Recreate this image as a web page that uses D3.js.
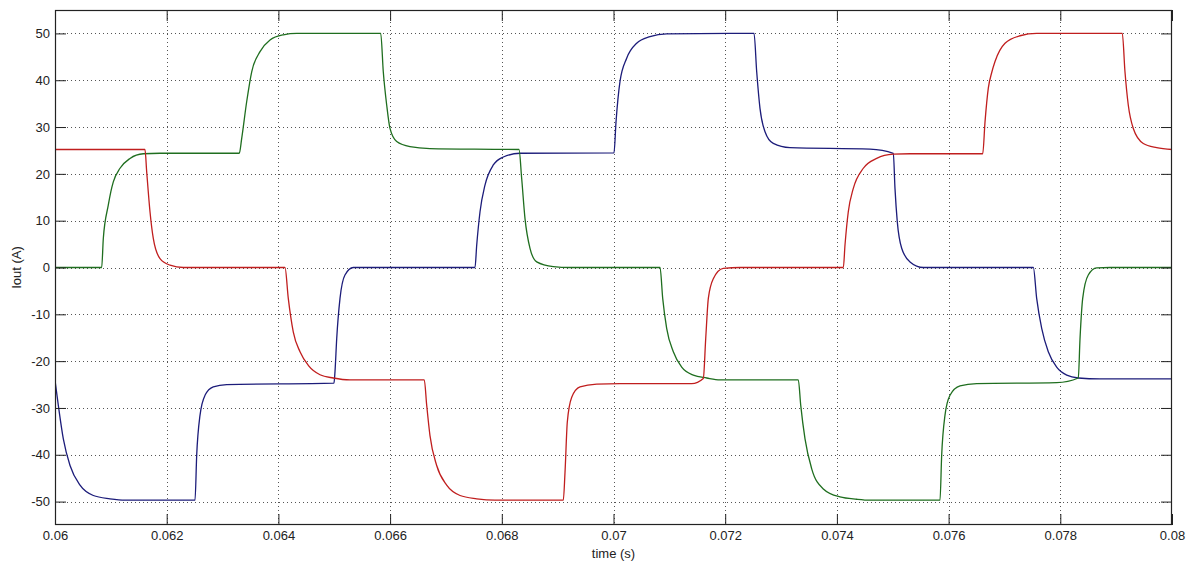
<!DOCTYPE html>
<html>
<head>
<meta charset="utf-8">
<script src="https://cdn.jsdelivr.net/npm/d3@7/dist/d3.min.js"></script>
<style>
  html, body { margin: 0; padding: 0; background: #ffffff; }
  svg { display: block; }
  text { font-family: "Liberation Sans", Arial, sans-serif; }
</style>
</head>
<body>
<svg id="chart" width="1194" height="565"></svg>
<script>
// ---- data (time in s, current in A) ----
const xTicks = [0.06, 0.062, 0.064, 0.066, 0.068, 0.07, 0.072, 0.074, 0.076, 0.078, 0.08];
const xTickLabels = ["0.06", "0.062", "0.064", "0.066", "0.068", "0.07", "0.072", "0.074", "0.076", "0.078", "0.08"];
const yTicks = [-50, -40, -30, -20, -10, 0, 10, 20, 30, 40, 50];
const yTickLabels = ["-50", "-40", "-30", "-20", "-10", "0", "10", "20", "30", "40", "50"];

const redT = [0.06, 0.061611, 0.061642, 0.061701, 0.06176, 0.06188, 0.062059, 0.062297, 0.064118, 0.064177, 0.064267, 0.064387, 0.064535, 0.064745, 0.064983, 0.065282, 0.066612, 0.066655, 0.066714, 0.066834, 0.067013, 0.067252, 0.067551, 0.067878, 0.069101, 0.069132, 0.069173, 0.069252, 0.0694, 0.069699, 0.070116, 0.0714, 0.071608, 0.071651, 0.071698, 0.071787, 0.071966, 0.072265, 0.074115, 0.074145, 0.074204, 0.074294, 0.074473, 0.074712, 0.07501, 0.075309, 0.076611, 0.076652, 0.076711, 0.076771, 0.076831, 0.07701, 0.077278, 0.077577, 0.07911, 0.079158, 0.079217, 0.079307, 0.079486, 0.079726, 0.08];
const redV = [25.2, 25.2, 20.4, 11.9, 6.2, 1.9, 0.5, 0, 0, -6.6, -13.8, -18.0, -20.9, -22.9, -23.6, -24.0, -24.0, -29.4, -35.9, -42.3, -46.5, -48.7, -49.4, -49.7, -49.7, -43.7, -33.0, -27.7, -25.5, -24.9, -24.8, -24.8, -23.7, -15.2, -6.6, -2.4, -0.2, 0, 0, 4.8, 11.9, 16.9, 21.2, 23.3, 24.2, 24.3, 24.3, 31.1, 38.3, 41.6, 44.0, 47.9, 49.5, 50, 50, 41.8, 34.7, 29.7, 26.5, 25.6, 25.2];

const greenT = [0.06, 0.060836, 0.060865, 0.060954, 0.061, 0.061044, 0.061164, 0.061343, 0.061581, 0.06188, 0.0633, 0.063343, 0.063432, 0.063522, 0.063671, 0.06385, 0.064088, 0.064328, 0.065832, 0.065878, 0.065939, 0.065998, 0.066118, 0.066356, 0.066714, 0.068308, 0.068356, 0.068415, 0.068505, 0.068625, 0.068922, 0.069221, 0.070833, 0.070881, 0.070952, 0.071071, 0.071221, 0.071429, 0.071669, 0.071907, 0.073309, 0.073352, 0.073429, 0.073549, 0.073757, 0.074055, 0.074354, 0.074593, 0.075846, 0.075876, 0.075935, 0.076025, 0.076204, 0.076503, 0.077935, 0.078322, 0.078353, 0.078401, 0.078501, 0.078652, 0.07889, 0.08];
const greenV = [0, 0, 6.2, 13.3, 16.2, 18.3, 21.2, 23.3, 24.3, 24.4, 24.4, 27.6, 35.4, 41.8, 46.1, 48.6, 49.7, 50, 50, 41.8, 34.7, 29.7, 26.9, 25.8, 25.4, 25.2, 19.0, 10.5, 4.1, 1.2, 0.2, 0, 0, -6.6, -13.0, -18.0, -21.3, -23.0, -23.6, -24.0, -24.0, -29.4, -36.6, -43.0, -47.3, -49.0, -49.5, -49.7, -49.7, -40.1, -31.6, -27.3, -25.3, -24.8, -24.6, -23.6, -15.2, -6.6, -1.6, -0.1, 0, 0];

const blueT = [0.06, 0.060059, 0.060149, 0.060269, 0.060448, 0.060686, 0.060985, 0.061253, 0.062507, 0.062537, 0.062596, 0.062686, 0.062834, 0.063074, 0.064995, 0.065013, 0.065044, 0.065103, 0.065192, 0.065341, 0.06752, 0.067551, 0.06761, 0.067699, 0.067848, 0.068027, 0.068326, 0.070009, 0.070045, 0.070116, 0.070236, 0.070415, 0.070653, 0.070952, 0.072516, 0.072564, 0.072623, 0.072713, 0.072861, 0.07316, 0.074593, 0.07501, 0.07504, 0.075081, 0.07516, 0.075309, 0.075547, 0.077517, 0.077577, 0.077667, 0.077785, 0.077935, 0.078115, 0.078322, 0.078711, 0.08];
const blueV = [-24.1, -29.4, -36.6, -42.3, -46.5, -48.7, -49.4, -49.7, -49.7, -40.1, -31.6, -27.3, -25.5, -25.0, -24.7, -22.3, -15.2, -6.6, -1.6, 0, 0, 4.8, 11.9, 17.6, 21.9, 23.6, 24.4, 24.5, 31.1, 39.7, 44.7, 47.9, 49.3, 49.9, 50, 41.8, 34.0, 29.0, 26.5, 25.6, 25.3, 24.4, 16.9, 9.8, 4.1, 1.2, 0, 0, -6.6, -13.0, -18.0, -21.3, -23.0, -23.6, -23.8, -23.8];

const seriesNames = ["blue phase", "green phase", "red phase"];
const seriesColors = ["#1c1c7a", "#1f6e1f", "#c01e1e"];

const xLabel = "time (s)";
const yLabel = "Iout (A)";

// ---- layout ----
const W = 1194, H = 565;
const margin = { left: 55, top: 10, right: 22, bottom: 40 };
const pw = W - margin.left - margin.right;   // 1117
const ph = H - margin.top - margin.bottom;   // 515

const svg = d3.select("#chart");
svg.append("rect").attr("width", W).attr("height", H).attr("fill", "#ffffff");

const x = d3.scaleLinear().domain([0.06, 0.08]).range([margin.left, margin.left + pw]);
const y = d3.scaleLinear().domain([-55, 55]).range([margin.top + ph, margin.top]);

const g = svg.append("g");

// grid (dotted)
g.append("g").selectAll("line").data(xTicks.slice(1, -1)).join("line")
  .attr("x1", d => Math.round(x(d)) + 0.5).attr("x2", d => Math.round(x(d)) + 0.5)
  .attr("y1", margin.top).attr("y2", margin.top + ph)
  .attr("stroke", "#555").attr("stroke-width", 1).attr("stroke-dasharray", "1,3");
g.append("g").selectAll("line").data(yTicks).join("line")
  .attr("y1", d => Math.round(y(d)) + 0.5).attr("y2", d => Math.round(y(d)) + 0.5)
  .attr("x1", margin.left).attr("x2", margin.left + pw)
  .attr("stroke", "#555").attr("stroke-width", 1).attr("stroke-dasharray", "1,3");

// series
const curves = [
  { t: blueT, v: blueV, c: seriesColors[0] },
  { t: greenT, v: greenV, c: seriesColors[1] },
  { t: redT, v: redV, c: seriesColors[2] }
];
const line = d3.line().x(d => x(d[0])).y(d => y(d[1])).curve(d3.curveMonotoneX);
const clip = svg.append("clipPath").attr("id", "clip").append("rect")
  .attr("x", margin.left).attr("y", margin.top).attr("width", pw).attr("height", ph);
const lg = svg.append("g").attr("clip-path", "url(#clip)");
curves.forEach(s => {
  const pts = s.t.map((t, i) => [t, s.v[i]]);
  lg.append("path").datum(pts).attr("d", line)
    .attr("fill", "none").attr("stroke", s.c).attr("stroke-width", 1.3)
    .attr("stroke-linejoin", "round");
});

// axes: bottom/left with labels, top/right ticks only (inner ticks)
const tickLen = 11;
const axB = d3.axisBottom(x).tickValues(xTicks).tickSize(-tickLen).tickPadding(6)
  .tickFormat((d, i) => xTickLabels[i]);
const axT = d3.axisTop(x).tickValues(xTicks).tickSize(-tickLen).tickFormat("");
const axL = d3.axisLeft(y).tickValues(yTicks).tickSize(-tickLen).tickPadding(5)
  .tickFormat((d, i) => yTickLabels[i]);
const axR = d3.axisRight(y).tickValues(yTicks).tickSize(-tickLen).tickFormat("");

function style(sel) {
  sel.select(".domain").remove();
  sel.selectAll(".tick line").attr("stroke", "#222").attr("stroke-width", 1);
  sel.selectAll(".tick text").attr("fill", "#222").style("font-size", "13px")
    .style("font-family", "'Liberation Sans', Arial, sans-serif");
}
svg.append("g").attr("transform", `translate(0,${margin.top + ph})`).call(axB).call(style);
svg.append("g").attr("transform", `translate(0,${margin.top})`).call(axT).call(style);
svg.append("g").attr("transform", `translate(${margin.left},0)`).call(axL).call(style);
svg.append("g").attr("transform", `translate(${margin.left + pw},0)`).call(axR).call(style);

// box
svg.append("rect").attr("x", margin.left + 0.5).attr("y", margin.top + 0.5)
  .attr("width", pw - 1).attr("height", ph - 1)
  .attr("fill", "none").attr("stroke", "#222").attr("stroke-width", 1.2);

// axis titles
svg.append("text").attr("x", margin.left + pw / 2).attr("y", 558)
  .attr("text-anchor", "middle").attr("fill", "#222").style("font-size", "13px").text(xLabel);
svg.append("text").attr("transform", `translate(21,${y(0)}) rotate(-90)`)
  .attr("text-anchor", "middle").attr("fill", "#222").style("font-size", "13px").text(yLabel);
</script>
</body>
</html>
